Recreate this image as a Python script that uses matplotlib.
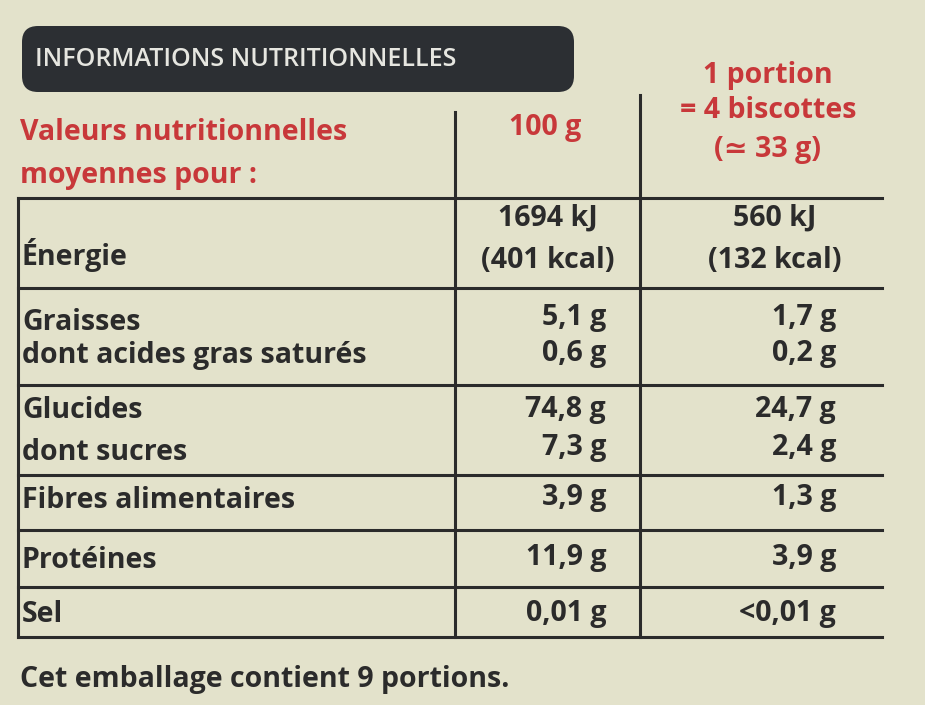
import matplotlib
matplotlib.use("Agg")
import matplotlib.pyplot as plt
from matplotlib.patches import FancyBboxPatch

title = "INFORMATIONS NUTRITIONNELLES"
header_left = ["Valeurs nutritionnelles", "moyennes pour :"]
header_100 = "100 g"
header_portion = ["1 portion", "= 4 biscottes", "(≃ 33 g)"]
row_labels = [["Énergie"], ["Graisses", "dont acides gras saturés"], ["Glucides", "dont sucres"],
              ["Fibres alimentaires"], ["Protéines"], ["Sel"]]
values_100 = [["1694 kJ", "(401 kcal)"], ["5,1 g", "0,6 g"], ["74,8 g", "7,3 g"], ["3,9 g"], ["11,9 g"], ["0,01 g"]]
values_portion = [["560 kJ", "(132 kcal)"], ["1,7 g", "0,2 g"], ["24,7 g", "2,4 g"], ["1,3 g"], ["3,9 g"], ["<0,01 g"]]
footer = "Cet emballage contient 9 portions."

row_bounds = [198, 288, 385, 475, 530, 587, 637]
label_y = [[255], [322, 355], [410, 452], [500], [560], [615]]
val_y = [[218, 260], [318, 353], [410, 448], [498], [558], [613]]

BG = "#e3e2cb"; INK = "#2b2b2b"; RED = "#c8383a"
FONT = ["Open Sans", "DejaVu Sans"]
fig = plt.figure(figsize=(9.25, 7.05), dpi=100, facecolor=BG)
ax = fig.add_axes([0, 0, 1, 1]); ax.set_xlim(0, 925); ax.set_ylim(705, 0); ax.axis("off")
ax.set_facecolor(BG)

ax.add_patch(FancyBboxPatch((22, 26), 552, 66, boxstyle="round,pad=0,rounding_size=16",
                            fc="#2c2f33", ec="none"))
ax.text(35, 60, title, color="#e6e6e0", fontsize=18, fontweight="semibold", family=FONT, va="center")

kw = dict(fontsize=20.5, family=FONT, fontweight="bold", va="center")
ax.text(20, 133, header_left[0], color=RED, **kw)
ax.text(20, 175, header_left[1], color=RED, **kw)
ax.text(545, 128, header_100, color=RED, ha="center", **kw)
for t, y in zip(header_portion, [75, 110, 150]):
    ax.text(768, y, t, color=RED, ha="center", **kw)

lw = 2.2
ax.plot([455, 455], [112, 637], color=INK, lw=lw)
ax.plot([640, 640], [95, 637], color=INK, lw=lw)
ax.plot([18, 18], [198, 637], color=INK, lw=lw)
for y in row_bounds:
    ax.plot([18, 882], [y, y], color=INK, lw=lw)

for i, labs in enumerate(row_labels):
    for t, y in zip(labs, label_y[i]):
        ax.text(22, y, t, color=INK, **kw)
    if i == 0:
        for t, y in zip(values_100[i], val_y[i]):
            ax.text(548, y, t, color=INK, ha="center", **kw)
        for t, y in zip(values_portion[i], val_y[i]):
            ax.text(775, y, t, color=INK, ha="center", **kw)
    else:
        for t, y in zip(values_100[i], val_y[i]):
            ax.text(606, y, t, color=INK, ha="right", **kw)
        for t, y in zip(values_portion[i], val_y[i]):
            ax.text(836, y, t, color=INK, ha="right", **kw)

ax.text(20, 680, footer, color=INK, **kw)
fig.savefig("out.png", dpi=100, facecolor=BG)
